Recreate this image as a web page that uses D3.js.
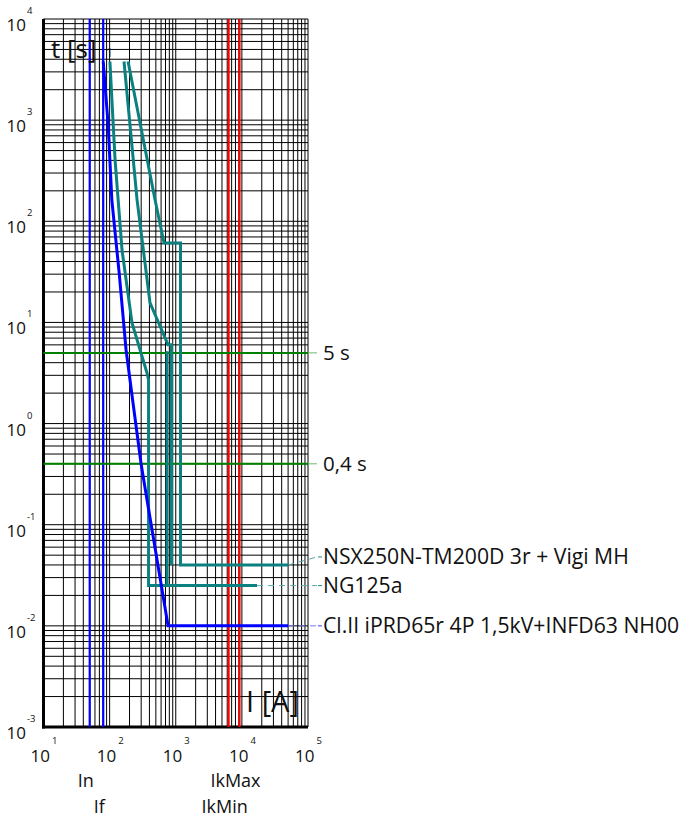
<!DOCTYPE html>
<html>
<head>
<meta charset="utf-8">
<script src="https://cdn.jsdelivr.net/npm/d3@7"></script>
<style>
  body { margin: 0; background: #fff; }
  svg { display: block; }
  text { font-family: "Open Sans", "Noto Sans", sans-serif; fill: #111; }
</style>
</head>
<body>
<svg id="chart" width="682" height="819"></svg>
<script>
// Axis decades (powers of ten)
const xTickExponents = [1, 2, 3, 4, 5];
const yTickExponents = [-3, -2, -1, 0, 1, 2, 3, 4];

// Vertical current markers [A]
const currentMarkers = [50, 80, 6300, 9200];
const currentMarkerLabels = ["In", "If", "IkMin", "IkMax"];
const currentMarkerColors = ["#0000ff", "#0000ff", "#ff0000", "#ff0000"];
const currentMarkerRows = [0, 1, 1, 0];

// Horizontal time markers [s]
const timeMarkers = [5, 0.4];
const timeMarkerLabels = ["5 s", "0,4 s"];

// Tripping curves, [current A, time s]
const fuseCurve = [[80, 3800], [95, 900], [108, 163], [140, 30], [177, 5.4], [223, 1.7], [299, 0.4], [368, 0.176], [765, 0.01], [50000, 0.01]];
const ng125MinCurve = [[101, 3800], [121, 400], [154, 52], [218, 9.9], [368, 3.16], [388, 2.7], [388, 0.025], [17000, 0.025]];
const ng125MaxCurve = [[738, 5.2], [738, 0.025]];
const nsxMinCurve = [[165, 3800], [260, 163], [408, 15.6], [766, 6.0], [863, 6.0], [863, 0.04]];
const nsxMaxCurve = [[190, 3800], [486, 163], [665, 61], [1180, 61], [1180, 0.04], [50000, 0.04]];

const curveLabels = ["NSX250N-TM200D 3r + Vigi MH", "NG125a", "Cl.II iPRD65r 4P 1,5kV+INFD63 NH00"];

const svg = d3.select("#chart");
const x = d3.scaleLog().domain([1e1, 1e5]).range([43.5, 308]);
const y = d3.scaleLog().domain([1e-3, 1e4]).range([727, 19]);

// Minor and major grid values (1..9 × each decade)
const xGrid = [];
for (let e = 1; e <= 4; e++) for (let m = 1; m <= 9; m++) xGrid.push(m * Math.pow(10, e));
xGrid.push(1e5);
const yGrid = [];
for (let e = -3; e <= 3; e++) for (let m = 1; m <= 9; m++) yGrid.push(m * Math.pow(10, e));
yGrid.push(1e4);

const grid = svg.append("g").attr("stroke", "#000").attr("stroke-width", 1);
grid.selectAll("line.v").data(xGrid).join("line")
  .attr("x1", d => x(d)).attr("x2", d => x(d))
  .attr("y1", y(1e4)).attr("y2", y(1e-3));
grid.selectAll("line.h").data(yGrid).join("line")
  .attr("x1", x(1e1)).attr("x2", x(1e5))
  .attr("y1", d => y(d)).attr("y2", d => y(d));

// Heavy left and bottom axis lines
svg.append("line").attr("x1", x(1e1)).attr("x2", x(1e1)).attr("y1", y(1e4)).attr("y2", y(1e-3) + 1.5)
  .attr("stroke", "#000").attr("stroke-width", 3);
svg.append("line").attr("x1", x(1e1) - 1.5).attr("x2", x(1e5)).attr("y1", y(1e-3)).attr("y2", y(1e-3))
  .attr("stroke", "#000").attr("stroke-width", 3);

// Vertical current markers
svg.append("g").selectAll("line").data(currentMarkers).join("line")
  .attr("x1", d => x(d)).attr("x2", d => x(d))
  .attr("y1", y(1e4)).attr("y2", y(1e-3))
  .attr("stroke", (d, i) => currentMarkerColors[i]).attr("stroke-width", 2.2);

// Horizontal time markers with leaders and labels
const tm = svg.append("g");
tm.selectAll("line.main").data(timeMarkers).join("line")
  .attr("x1", x(1e1)).attr("x2", x(1e5))
  .attr("y1", d => y(d)).attr("y2", d => y(d))
  .attr("stroke", "#008000").attr("stroke-width", 2);
tm.selectAll("line.lead").data(timeMarkers).join("line")
  .attr("x1", x(1e5)).attr("x2", x(1e5) + 9)
  .attr("y1", d => y(d)).attr("y2", d => y(d))
  .attr("stroke", "#6fb86f").attr("stroke-width", 1);
tm.selectAll("text").data(timeMarkers).join("text")
  .attr("x", 323).attr("y", d => y(d) + 7)
  .attr("font-size", 20.5)
  .text((d, i) => timeMarkerLabels[i]);

// Curves
const line = d3.line().x(d => x(d[0])).y(d => y(d[1]));
const teal = "#0a8080";
[ng125MinCurve, ng125MaxCurve, nsxMinCurve, nsxMaxCurve].forEach(c => {
  svg.append("path").attr("d", line(c)).attr("fill", "none")
    .attr("stroke", teal).attr("stroke-width", 3).attr("stroke-linejoin", "miter");
});
svg.append("path").attr("d", line(fuseCurve)).attr("fill", "none")
  .attr("stroke", "#0000ff").attr("stroke-width", 3).attr("stroke-linejoin", "miter");

// Curve labels with dashed leaders
const curveEnds = [nsxMaxCurve[nsxMaxCurve.length - 1], ng125MinCurve[ng125MinCurve.length - 1], fuseCurve[fuseCurve.length - 1]];
const labelShift = [-8, 0, 0];
const leaderColors = ["#5fa8a8", "#5fa8a8", "#7a7aff"];
const tickColors = ["#208a8a", "#208a8a", "#3a3aff"];
curveEnds.forEach((p, i) => {
  const ly = y(p[1]) + labelShift[i];
  svg.append("line").attr("x1", x(p[0])).attr("y1", y(p[1])).attr("x2", 317).attr("y2", ly)
    .attr("stroke", leaderColors[i]).attr("stroke-width", 1).attr("stroke-dasharray", "6,5");
  svg.append("line").attr("x1", 318).attr("x2", 322).attr("y1", ly).attr("y2", ly)
    .attr("stroke", tickColors[i]).attr("stroke-width", 1);
  svg.append("text").attr("x", 323).attr("y", ly + 7.5).attr("font-size", 21.2).text(curveLabels[i]);
});

// Tick labels: 10 with superscript exponent
const xt = svg.append("g");
xTickExponents.forEach(e => {
  const px = x(Math.pow(10, e));
  xt.append("text").attr("x", px + 6.5).attr("y", 762).attr("text-anchor", "end").attr("font-size", 17).text("10");
  xt.append("text").attr("x", px + 8.5).attr("y", 744).attr("font-size", 9.5).text(e);
});
const yt = svg.append("g");
yTickExponents.forEach(e => {
  const py = y(Math.pow(10, e));
  yt.append("text").attr("x", 26).attr("y", py + 12).attr("text-anchor", "end").attr("font-size", 17).text("10");
  yt.append("text").attr("x", 27).attr("y", py - 5).attr("font-size", 9.5).text(e);
});

// Axis titles
svg.append("text").attr("x", 51).attr("y", 58).attr("font-size", 26).text("t [s]");
svg.append("text").attr("x", 106).attr("y", 57).attr("font-size", 12).attr("fill", "#444").text("1");
svg.append("text").attr("x", 246).attr("y", 712).attr("font-size", 29).text("I [A]");

// Current marker names below the axis
svg.append("g").selectAll("text").data(currentMarkers).join("text")
  .attr("x", d => x(d) - 4)
  .attr("y", (d, i) => currentMarkerRows[i] === 0 ? 787 : 813)
  .attr("text-anchor", "middle").attr("font-size", 18)
  .text((d, i) => currentMarkerLabels[i]);
</script>
</body>
</html>
